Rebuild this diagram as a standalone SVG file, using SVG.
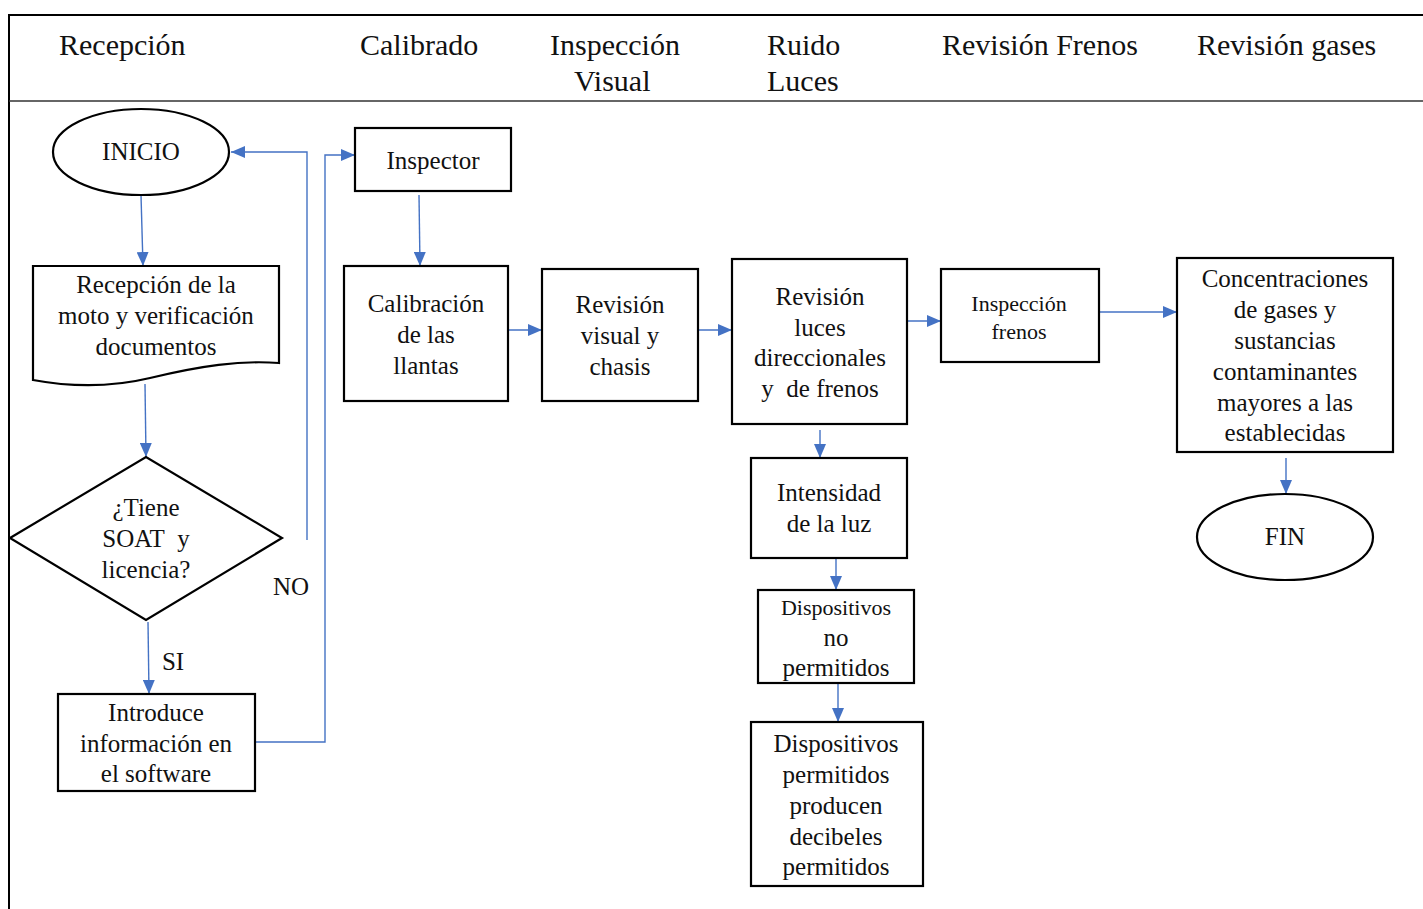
<svg xmlns="http://www.w3.org/2000/svg" width="1423" height="909" viewBox="0 0 1423 909">
<style>
text{font-family:"Liberation Serif","Times New Roman",serif;fill:#111;text-anchor:middle}
.h{font-size:30px;text-anchor:start}
.t{font-size:25px}
.s{font-size:22px}
.b{fill:#fff;stroke:#000;stroke-width:2.2}
.c{fill:none;stroke:#4472C4;stroke-width:1.4}
</style>
<defs>
<marker id="a" viewBox="0 0 14 12" refX="14" refY="6" markerWidth="14" markerHeight="12" markerUnits="userSpaceOnUse" orient="auto">
<path d="M0,0 L14,6 L0,12 Z" fill="#4472C4"/>
</marker>
</defs>
<rect width="1423" height="909" fill="#fff"/>
<g id="frame">
<path d="M9,909 V15 H1423" fill="none" stroke="#000" stroke-width="2"/>
<line x1="9" y1="101" x2="1423" y2="101" stroke="#333" stroke-width="1.3"/>
<text class="h" x="59" y="55">Recepción</text>
<text class="h" x="360" y="55">Calibrado</text>
<text class="h" x="550" y="55">Inspección</text>
<text class="h" x="574" y="91">Visual</text>
<text class="h" x="767" y="55">Ruido</text>
<text class="h" x="767" y="91">Luces</text>
<text class="h" x="942" y="55">Revisión Frenos</text>
<text class="h" x="1197" y="55">Revisión gases</text>
</g>
<g id="connectors">
<path class="c" d="M141,195 L143,266" marker-end="url(#a)"/>
<path class="c" d="M145,384 L146,457" marker-end="url(#a)"/>
<path class="c" d="M148,622 L149,694" marker-end="url(#a)"/>
<path class="c" d="M307,540 V152 H231" marker-end="url(#a)"/>
<path class="c" d="M255,742 H325 V155 H355" marker-end="url(#a)"/>
<path class="c" d="M419,195 L420,266" marker-end="url(#a)"/>
<path class="c" d="M508,330 H542" marker-end="url(#a)"/>
<path class="c" d="M698,330 H732" marker-end="url(#a)"/>
<path class="c" d="M907,321 H941" marker-end="url(#a)"/>
<path class="c" d="M1099,312 H1177" marker-end="url(#a)"/>
<path class="c" d="M1286,458 V494" marker-end="url(#a)"/>
<path class="c" d="M820,430 V458" marker-end="url(#a)"/>
<path class="c" d="M836,558 V590" marker-end="url(#a)"/>
<path class="c" d="M838,683 V722" marker-end="url(#a)"/>
</g>
<g id="inicio">
<ellipse class="b" cx="141" cy="152" rx="88" ry="43"/>
<text class="t" x="141" y="160">INICIO</text>
</g>
<g id="recepcion">
<path class="b" d="M33,266 H279 V363 C240,360 200,366 150,378 C100,390 60,385 33,380 Z"/>
<text class="t" x="156" y="293">Recepción de la</text>
<text class="t" x="156" y="324">moto y verificación</text>
<text class="t" x="156" y="355">documentos</text>
</g>
<g id="decision">
<path class="b" d="M10,538 L146,457 L282,538 L146,620 Z"/>
<text class="t" x="146" y="516">¿Tiene</text>
<text class="t" x="146" y="547">SOAT&#160; y</text>
<text class="t" x="146" y="578">licencia?</text>
</g>
<g id="labels">
<text class="t" x="291" y="595">NO</text>
<text class="t" x="173" y="670">SI</text>
</g>
<g id="introduce">
<rect class="b" x="58" y="694" width="197" height="97"/>
<text class="t" x="156" y="721">Introduce</text>
<text class="t" x="156" y="752">información en</text>
<text class="t" x="156" y="782">el software</text>
</g>
<g id="inspector">
<rect class="b" x="355" y="128" width="156" height="63"/>
<text class="t" x="433" y="169">Inspector</text>
</g>
<g id="calibracion">
<rect class="b" x="344" y="266" width="164" height="135"/>
<text class="t" x="426" y="312">Calibración</text>
<text class="t" x="426" y="343">de las</text>
<text class="t" x="426" y="374">llantas</text>
</g>
<g id="visual">
<rect class="b" x="542" y="269" width="156" height="132"/>
<text class="t" x="620" y="313">Revisión</text>
<text class="t" x="620" y="344">visual y</text>
<text class="t" x="620" y="375">chasis</text>
</g>
<g id="luces">
<rect class="b" x="732" y="259" width="175" height="165"/>
<text class="t" x="820" y="305">Revisión</text>
<text class="t" x="820" y="336">luces</text>
<text class="t" x="820" y="366">direccionales</text>
<text class="t" x="820" y="397">y&#160; de frenos</text>
</g>
<g id="frenos">
<rect class="b" x="941" y="269" width="158" height="93"/>
<text class="s" x="1019" y="311">Inspección</text>
<text class="s" x="1019" y="339">frenos</text>
</g>
<g id="gases">
<rect class="b" x="1177" y="258" width="216" height="194"/>
<text class="t" x="1285" y="287">Concentraciones</text>
<text class="t" x="1285" y="318">de gases y</text>
<text class="t" x="1285" y="349">sustancias</text>
<text class="t" x="1285" y="380">contaminantes</text>
<text class="t" x="1285" y="411">mayores a las</text>
<text class="t" x="1285" y="441">establecidas</text>
</g>
<g id="fin">
<ellipse class="b" cx="1285" cy="537" rx="88" ry="43"/>
<text class="t" x="1285" y="545">FIN</text>
</g>
<g id="intensidad">
<rect class="b" x="751" y="458" width="156" height="100"/>
<text class="t" x="829" y="501">Intensidad</text>
<text class="t" x="829" y="532">de la luz</text>
</g>
<g id="no-permitidos">
<rect class="b" x="758" y="590" width="156" height="93"/>
<text class="s" x="836" y="615">Dispositivos</text>
<text class="t" x="836" y="646">no</text>
<text class="t" x="836" y="676">permitidos</text>
</g>
<g id="permitidos">
<rect class="b" x="751" y="722" width="172" height="164"/>
<text class="t" x="836" y="752">Dispositivos</text>
<text class="t" x="836" y="783">permitidos</text>
<text class="t" x="836" y="814">producen</text>
<text class="t" x="836" y="845">decibeles</text>
<text class="t" x="836" y="875">permitidos</text>
</g>
</svg>
